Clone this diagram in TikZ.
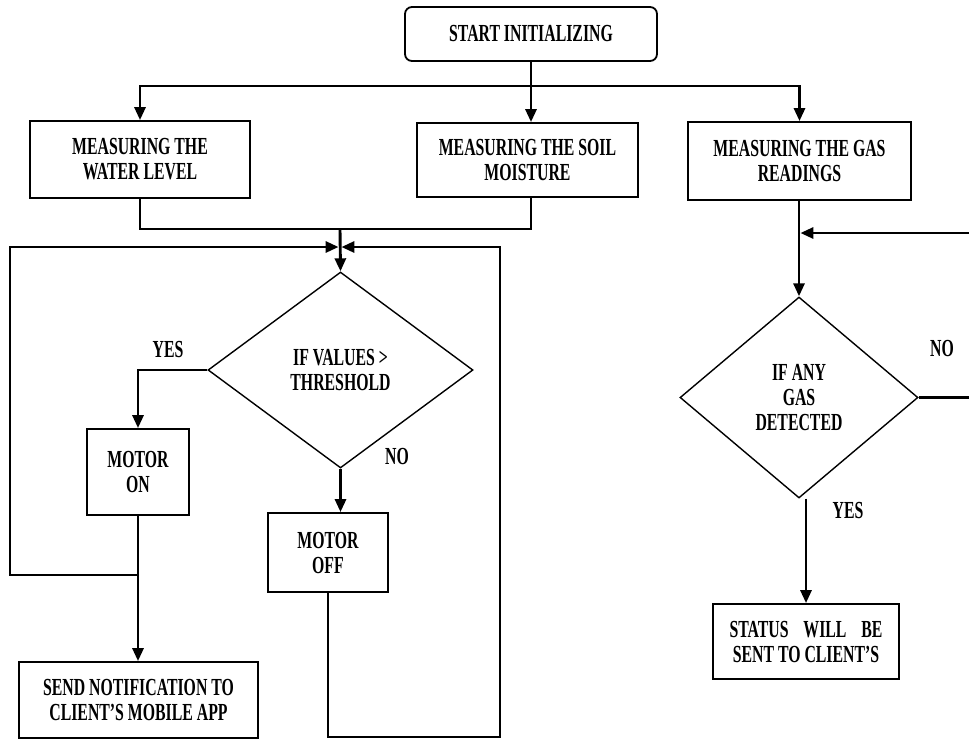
\documentclass[tikz,border=0pt]{standalone}
\usepackage{fontspec}
\setmainfont{Liberation Serif}[FakeStretch=0.645]
\usetikzlibrary{shapes.geometric,arrows.meta}
\begin{document}
\begin{tikzpicture}[x=1pt,y=-1pt,
  txt/.style={font=\bfseries\fontsize{24.5}{25}\selectfont},
  box/.style={txt,draw,line width=1.8pt,inner sep=0pt,align=center},
  dia/.style={txt,draw,diamond,line width=1.4pt,inner sep=0pt,align=center},
  conn/.style={line width=2.9pt},
  arr/.style={conn,-{Triangle[length=13pt,width=11pt]}},
  lbl/.style={txt}
]
\useasboundingbox (0,0) rectangle (969,740);
\fill[white] (0,0) rectangle (969,740);

\node[box,rounded corners=7pt,minimum width=252pt,minimum height=54pt] (start) at (531,34) {START INITIALIZING};
\node[box,minimum width=220pt,minimum height=77pt] (water) at (140,159.5) {MEASURING THE\\WATER LEVEL};
\node[box,minimum width=221pt,minimum height=74pt] (soil) at (527.5,160) {MEASURING THE SOIL\\MOISTURE};
\node[box,minimum width=223pt,minimum height=78pt] (gas) at (799.5,161) {MEASURING THE GAS\\READINGS};
\node[dia,minimum width=265pt,minimum height=196pt] (d1) at (340.5,370) {IF VALUES >\\THRESHOLD};
\node[box,minimum width=102pt,minimum height=86pt] (mon) at (138,472) {MOTOR\\ON};
\node[box,minimum width=120pt,minimum height=79pt] (moff) at (328,552.5) {MOTOR\\OFF};
\node[box,minimum width=239pt,minimum height=76pt] (notif) at (138.5,700) {SEND NOTIFICATION TO\\CLIENT’S MOBILE APP};
\node[dia,minimum width=238pt,minimum height=201pt] (d2) at (799,397.5) {IF ANY\\GAS\\DETECTED};
\node[box,minimum width=186pt,minimum height=75pt] (status) at (806,641.5) {\makebox[153pt][s]{STATUS WILL BE}\\SENT TO CLIENT’S};

\node[lbl] (yes1) at (168,349) {YES};
\node[lbl] (no1) at (397,456) {NO};
\node[lbl] (no2) at (942,348) {NO};
\node[lbl] (yes2) at (848,510) {YES};

\coordinate (br) at (531,86);
\coordinate (mj) at (340,229);
\coordinate (lj) at (340,247);
\coordinate (j1) at (138,575);
\coordinate (lc) at (10,575);
\coordinate (rc) at (500,737);
\coordinate (gj) at (799,233);
\coordinate (gc) at (990,397.5);

\draw[conn] (start.south -| br) -- (br);
\draw[arr] (br) -| (water.north);
\draw[arr] (br) -| (gas.north);
\draw[arr] (br) -- (br |- soil.north);

\draw[conn] (water.south) |- (mj) -| (soil.south -| br);
\draw[arr] (mj) -- (d1.north);

\draw[arr] (d1.west) -| (mon.north);
\draw[arr] (d1.south) -- (d1.south |- moff.north);
\draw[arr] (mon.south) -- (mon.south |- notif.north);
\draw[arr,shorten >=1.4pt] (j1) -- (lc) |- (lj);
\draw[arr,shorten >=1.4pt] (moff.south) |- (rc) |- (lj);

\draw[arr] (gas.south -| gj) -- (gj |- d2.north);
\draw[arr,shorten >=1.4pt] (d2.east) -- (gc) |- (gj);
\draw[arr] (status.north |- d2.south) -- (status.north);
\end{tikzpicture}
\end{document}
